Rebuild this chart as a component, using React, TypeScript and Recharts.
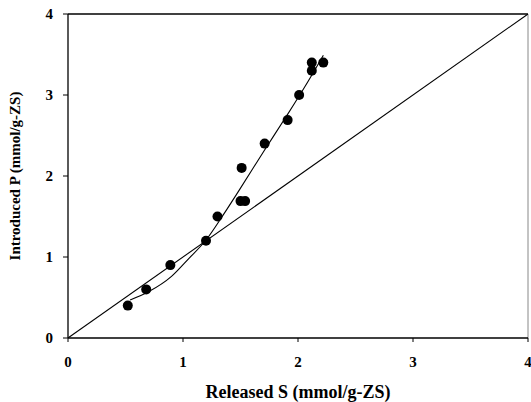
import { ScatterChart, Scatter, XAxis, YAxis, ReferenceLine } from 'recharts';

// measured points: released S vs introduced P (mmol/g-ZS)
const releasedS = [0.52, 0.68, 0.89, 1.2, 1.3, 1.51, 1.5, 1.54, 1.71, 1.91, 2.01, 2.12, 2.12, 2.22];
const introducedP = [0.4, 0.6, 0.9, 1.2, 1.5, 2.1, 1.69, 1.69, 2.4, 2.69, 3.0, 3.3, 3.4, 3.4];

// fitted curve through the points
const fitX = [0.54, 0.7, 0.9, 1.05, 1.2, 1.35, 1.5, 1.7, 1.9, 2.05, 2.22];
const fitY = [0.47, 0.57, 0.76, 0.98, 1.21, 1.52, 1.85, 2.3, 2.74, 3.08, 3.49];

// 1:1 line
const diagX = [0, 4];
const diagY = [0, 4];

const axisTicks = [0, 1, 2, 3, 4];

const points = releasedS.map((x, i) => ({ x, y: introducedP[i] }));
const fit = fitX.map((x, i) => ({ x, y: fitY[i] }));
const diag = diagX.map((x, i) => ({ x, y: diagY[i] }));

const font = '"Liberation Serif", "Times New Roman", serif';
const tickStyle = { fill: '#000', fontSize: 15, fontWeight: 700, fontFamily: font };
const xLabelStyle = { fill: '#000', fontSize: 18, fontWeight: 700, fontFamily: font, textAnchor: 'middle' as const };
const yLabelStyle = { ...xLabelStyle, fontSize: 15 };

const noDot = () => <g />;
const dot = (p: any) => <circle cx={p.cx} cy={p.cy} r={5} fill="#000" />;

export default function App() {
  return (
    <div style={{ position: 'absolute', left: 0, top: 0, width: 531, height: 402, background: '#fff' }}>
      <ScatterChart width={531} height={402} margin={{ top: 14, right: 3, bottom: 0, left: 0 }}>
        <XAxis
          type="number"
          dataKey="x"
          domain={[0, 4]}
          ticks={axisTicks}
          interval={0}
          allowDataOverflow
          height={64}
          tick={tickStyle}
          tickSize={4}
          tickMargin={14}
          axisLine={{ stroke: '#000', strokeWidth: 1.3 }}
          tickLine={{ stroke: '#000' }}
          label={{ value: 'Released S (mmol/g-ZS)', position: 'insideBottom', offset: 4, style: xLabelStyle }}
        />
        <YAxis
          type="number"
          dataKey="y"
          domain={[0, 4]}
          ticks={axisTicks}
          interval={0}
          allowDataOverflow
          width={68}
          tick={tickStyle}
          tickSize={5}
          tickMargin={10}
          axisLine={{ stroke: '#000', strokeWidth: 1.3 }}
          tickLine={{ stroke: '#000' }}
          label={{ value: 'Introduced P (mmol/g-ZS)', angle: -90, position: 'insideLeft', offset: 15, style: yLabelStyle }}
        />
        <ReferenceLine y={4} stroke="#000" strokeWidth={1.3} />
        <ReferenceLine x={4} stroke="#888" strokeWidth={1} />
        <Scatter
          data={diag}
          line={{ stroke: '#000', strokeWidth: 1.1 }}
          shape={noDot}
          isAnimationActive={false}
        />
        <Scatter
          data={fit}
          line={{ stroke: '#000', strokeWidth: 1.1 }}
          lineJointType="monotoneX"
          shape={noDot}
          isAnimationActive={false}
        />
        <Scatter data={points} shape={dot} isAnimationActive={false} />
      </ScatterChart>
    </div>
  );
}
